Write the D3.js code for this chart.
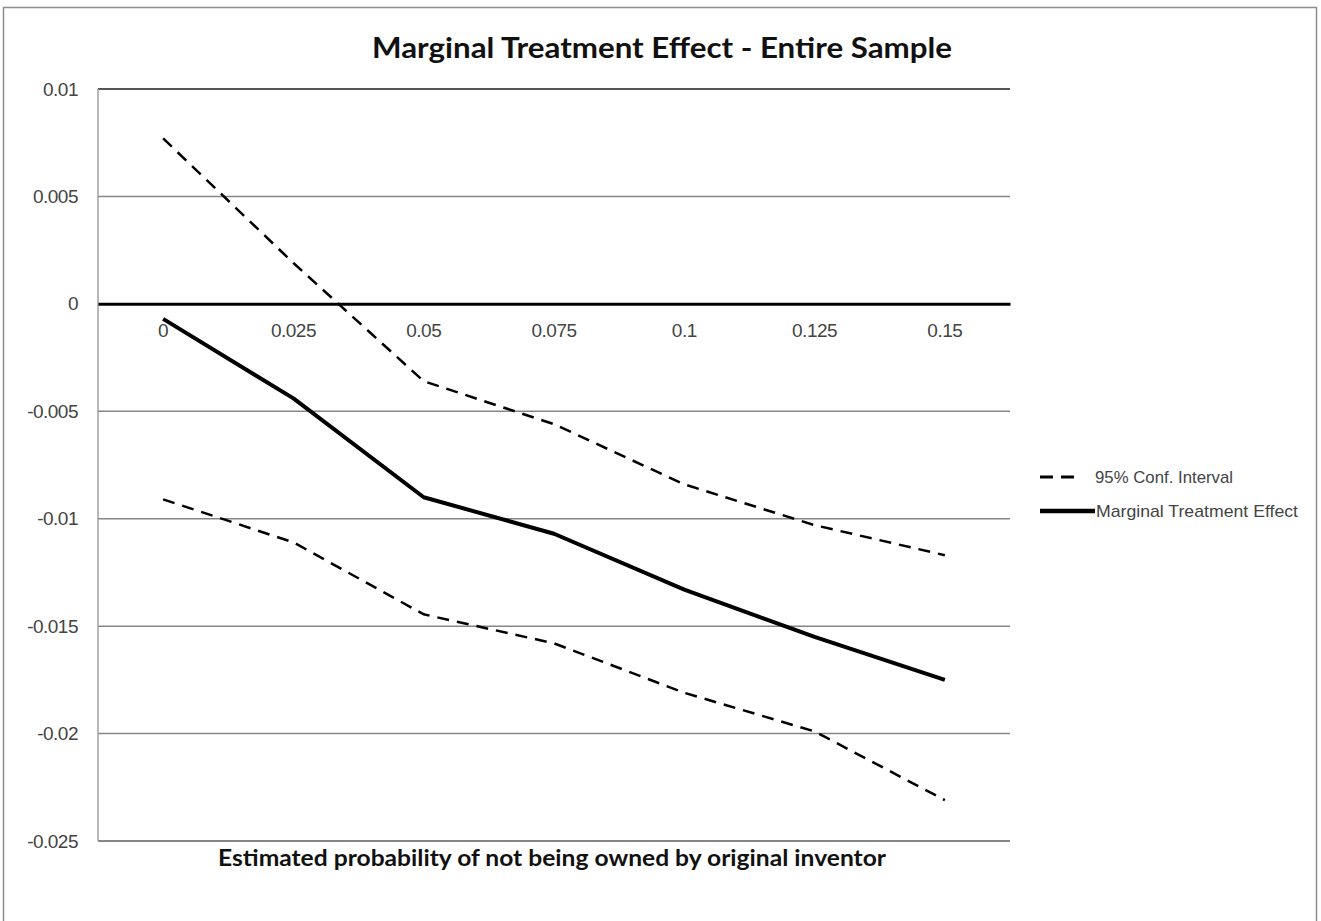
<!DOCTYPE html>
<html><head><meta charset="utf-8">
<script src="https://cdn.jsdelivr.net/npm/d3@7"></script>
<style>body{margin:0;background:#fff}svg{display:block}</style>
</head><body>
<script>
const categories = ["0","0.025","0.05","0.075","0.1","0.125","0.15"];
const mte   = [-0.0007,-0.0044,-0.0090,-0.0107,-0.0133,-0.0155,-0.0175];
const upper = [0.0077,0.0019,-0.0036,-0.0056,-0.0084,-0.0103,-0.0117];
const lower = [-0.0091,-0.0111,-0.01445,-0.0158,-0.0181,-0.0199,-0.0231];
const yTicks = [0.01,0.005,0,-0.005,-0.01,-0.015,-0.02,-0.025];
const yTickLabels = ["0.01","0.005","0","-0.005","-0.01","-0.015","-0.02","-0.025"];
const titleText = "Marginal Treatment Effect - Entire Sample";
const xTitle = "Estimated probability of not being owned by original inventor";
const legendLabels = ["95% Conf. Interval","Marginal Treatment Effect"];

const W=1321,H=921;
const svg=d3.select("body").append("svg").attr("width",W).attr("height",H);
svg.append("rect").attr("x",3.5).attr("y",7.5).attr("width",1313).attr("height",930)
  .attr("fill","#fff").attr("stroke","#8c8c8c").attr("stroke-width",1.5);

const L=98,R=1010,T=89,B=841;
const x=d3.scaleBand().domain(categories).range([L,R]);
const y=d3.scaleLinear().domain([-0.025,0.01]).range([B,T]);
const lab="'Liberation Sans', Arial, sans-serif";

// gridlines
svg.append("g").selectAll("line").data(yTicks.filter(v=>v!==0)).join("line")
  .attr("x1",L).attr("x2",R).attr("y1",d=>y(d)).attr("y2",d=>y(d))
  .attr("stroke",d=>d===0.01?"#555":"#868686").attr("stroke-width",d=>(d===0.01||d===-0.025)?2:1.5);
// y axis line
svg.append("line").attr("x1",L).attr("x2",L).attr("y1",T).attr("y2",B)
  .attr("stroke","#a0a0a0").attr("stroke-width",1.5);
// y tick labels
const yAxis=d3.axisLeft(y).tickValues(yTicks).tickSize(0).tickPadding(20)
  .tickFormat((d,i)=>yTickLabels[i]);
const ga=svg.append("g").attr("transform",`translate(${L},0)`).call(yAxis);
ga.select(".domain").remove();
ga.selectAll("text").attr("font-family",lab).attr("font-size",19).attr("fill","#444")
  .attr("letter-spacing",-0.5);

// x axis at zero
const xAxis=d3.axisBottom(x).tickSize(0).tickPadding(20);
const gx=svg.append("g").attr("transform",`translate(0,${y(0)})`).call(xAxis);
gx.select(".domain").attr("stroke","#000").attr("stroke-width",3);
gx.selectAll("text").attr("font-family",lab).attr("font-size",19).attr("fill","#444")
  .attr("letter-spacing",-0.5);

const line=d3.line().x((d,i)=>x(categories[i])+x.bandwidth()/2).y(d=>y(d));
[upper,lower].forEach(s=>svg.append("path").datum(s).attr("d",line).attr("fill","none")
  .attr("stroke","#000").attr("stroke-width",2.5).attr("stroke-dasharray","12,8"));
svg.append("path").datum(mte).attr("d",line).attr("fill","none")
  .attr("stroke","#000").attr("stroke-width",4).attr("stroke-linejoin","round");

// title
svg.append("text").attr("x",662).attr("y",58).attr("text-anchor","middle")
  .attr("font-family","Lato, 'Open Sans', sans-serif").attr("font-weight","bold")
  .attr("font-size",29).attr("fill","#111").attr("textLength",580)
  .attr("lengthAdjust","spacingAndGlyphs").text(titleText);
svg.append("text").attr("x",552).attr("y",866).attr("text-anchor","middle")
  .attr("font-family","Lato, 'Open Sans', sans-serif").attr("font-weight","bold")
  .attr("font-size",22).attr("fill","#111").attr("textLength",668)
  .attr("lengthAdjust","spacingAndGlyphs").text(xTitle);

// legend
const lg=svg.append("g");
lg.append("line").attr("x1",1040).attr("x2",1082).attr("y1",477).attr("y2",477)
  .attr("stroke","#000").attr("stroke-width",3).attr("stroke-dasharray","13,8");
lg.append("line").attr("x1",1040).attr("x2",1095).attr("y1",511).attr("y2",511)
  .attr("stroke","#000").attr("stroke-width",4.5);
lg.selectAll("text").data(legendLabels).join("text")
  .attr("x",(d,i)=>i===0?1095:1096).attr("y",(d,i)=>i===0?483:517)
  .attr("font-family",lab).attr("font-size",17).attr("fill","#444")
  .attr("textLength",(d,i)=>i===0?138:202).attr("lengthAdjust","spacingAndGlyphs")
  .text(d=>d);
</script>
</body></html>
